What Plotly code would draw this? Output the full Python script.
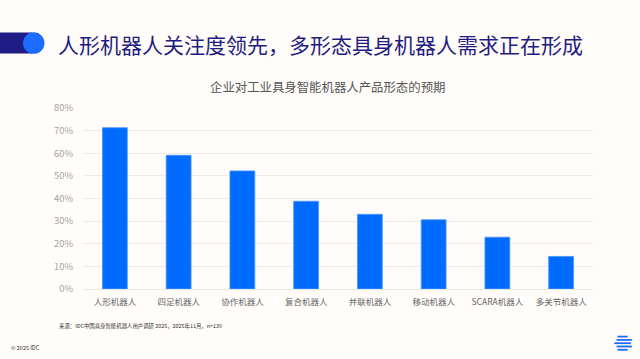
import math
import plotly.graph_objects as go

categories = ["人形机器人", "四足机器人", "协作机器人", "复合机器人", "并联机器人", "移动机器人", "SCARA机器人", "多关节机器人"]
values = [0.713, 0.591, 0.522, 0.388, 0.330, 0.306, 0.229, 0.144]
y_ticks = [0, 0.1, 0.2, 0.3, 0.4, 0.5, 0.6, 0.7, 0.8]
y_tick_labels = ["0%", "10%", "20%", "30%", "40%", "50%", "60%", "70%", "80%"]

FONT = "Noto Sans CJK SC"
BG = "#fffcf9"

fig = go.Figure()
fig.add_trace(go.Bar(
    x=categories, y=values,
    marker=dict(color="#006cff", line=dict(color="#4d94ff", width=0.8)),
    hoverinfo="skip",
))

W, H = 640, 359
ml, mr, mt, mb = 83, 47, 108, 70
PW = W - ml - mr
PH = H - mt - mb

fig.update_layout(
    width=W, height=H,
    margin=dict(l=ml, r=mr, t=mt, b=mb, pad=0),
    paper_bgcolor=BG, plot_bgcolor=BG,
    bargap=0.61,
    showlegend=False,
    font=dict(family=FONT, color="#666666"),
    xaxis=dict(
        showgrid=False, showline=False, zeroline=False,
        tickfont=dict(size=8.5, color="#666666", family=FONT),
        ticks="", ticklabelstandoff=6,
    ),
    yaxis=dict(
        range=[0, 0.8], tickvals=y_ticks, ticktext=y_tick_labels,
        showgrid=True, gridcolor="#ebebeb", gridwidth=1,
        zeroline=True, zerolinecolor="#e6e6e6", zerolinewidth=1,
        showline=False, ticks="",
        tickfont=dict(size=9.3, color="#a3a3a3", family=FONT),
        ticklabelstandoff=9,
    ),
)

def px(x):
    return (x - ml) / PW

def py(y):
    return (H - mb - y) / PH

shapes = []
# Title decoration
shapes.append(dict(type="rect", xref="paper", yref="paper",
                   x0=px(0), x1=px(32), y0=py(53.5), y1=py(32.5),
                   fillcolor="#201c86", line=dict(width=0), layer="above"))
shapes.append(dict(type="circle", xref="paper", yref="paper",
                   x0=px(23), x1=px(44.5), y0=py(53.8), y1=py(32.3),
                   fillcolor="#1a6dff", line=dict(width=0), layer="above"))

# IDC logo: striped circle
cx, cy, r = 623, 343.2, 8.3
for i, dy in enumerate([-6.6, -3.3, 0, 3.3, 6.6]):
    half = math.sqrt(max(r * r - dy * dy, 0))
    off = 1.2 if i % 2 else -0.4
    shapes.append(dict(type="line", xref="paper", yref="paper",
                       x0=px(cx - half + off), x1=px(cx + half + off),
                       y0=py(cy + dy), y1=py(cy + dy),
                       line=dict(color="#1a6dff", width=1.8), layer="above"))
fig.update_layout(shapes=shapes)

annotations = [
    dict(text="人形机器人关注度领先，多形态具身机器人需求正在形成",
         x=px(56), y=py(44), xref="paper", yref="paper",
         xanchor="left", yanchor="middle", showarrow=False,
         font=dict(size=21, color="#1f1d80", family=FONT)),
    dict(text="企业对工业具身智能机器人产品形态的预期",
         x=px(327), y=py(87), xref="paper", yref="paper",
         xanchor="center", yanchor="middle", showarrow=False,
         font=dict(size=12.4, color="#555555", family=FONT)),
    dict(text="来源：IDC中国具身智能机器人用户调研 2025，2025年11月，n=130",
         x=px(57), y=py(325.5), xref="paper", yref="paper",
         xanchor="left", yanchor="middle", showarrow=False,
         font=dict(size=5.4, color="#333333", family=FONT)),
    dict(text="© 2025 IDC",
         x=px(9), y=py(348), xref="paper", yref="paper",
         xanchor="left", yanchor="middle", showarrow=False,
         font=dict(size=5.5, color="#333333", family=FONT)),
]
fig.update_layout(annotations=annotations)

fig.write_html("out.html",
               config={"displayModeBar": False, "staticPlot": True},
               post_script="document.body.style.margin='0';document.body.style.background='%s';" % BG)
